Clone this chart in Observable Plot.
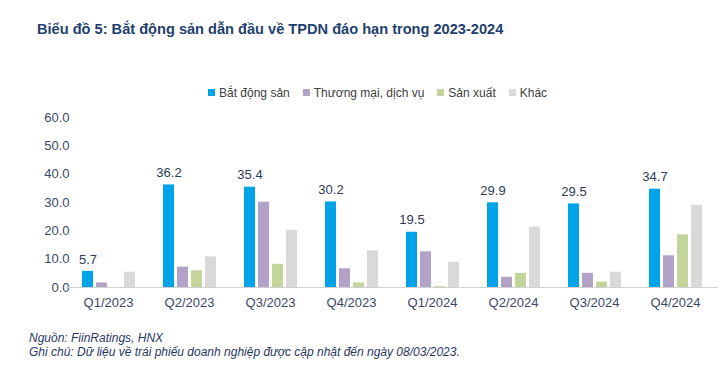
<!DOCTYPE html>
<html>
<head>
<meta charset="utf-8">
<script src="https://cdn.jsdelivr.net/npm/d3@7"></script>
<script src="https://cdn.jsdelivr.net/npm/@observablehq/plot@0.6"></script>
<style>
  html, body { margin: 0; padding: 0; background: #fff; }
  #wrap { position: relative; width: 725px; height: 384px; overflow: hidden; font-family: "Liberation Sans", Arial, sans-serif; }
  #title { position: absolute; left: 37px; top: 21px; font-size: 14.6px; font-weight: bold; color: #1f3f6e; white-space: nowrap; }
  #legend { position: absolute; left: 208px; top: 86px; font-size: 12px; color: #404040; white-space: nowrap; }
  #legend span.item { margin-right: 13px; }
  #legend span.sw { display: inline-block; width: 7px; height: 7px; margin-right: 4px; vertical-align: 1px; }
  #chart { position: absolute; left: 0; top: 0; }
  #foot { position: absolute; left: 29px; top: 332px; font-size: 12px; font-style: italic; color: #1f3864; line-height: 13.5px; white-space: nowrap; }
</style>
</head>
<body>
<div id="wrap">
  <div id="chart"></div>
  <div id="title">Biểu đồ 5: Bắt động sản dẫn đầu về TPDN đáo hạn trong 2023-2024</div>
  <div id="legend"></div>
  <div id="foot">Nguồn: FiinRatings, HNX<br>Ghi chú: Dữ liệu về trái phiếu doanh nghiệp được cập nhật đến ngày 08/03/2023.</div>
</div>
<script>
const quarters = ["Q1/2023", "Q2/2023", "Q3/2023", "Q4/2023", "Q1/2024", "Q2/2024", "Q3/2024", "Q4/2024"];
const seriesNames = ["Bắt động sản", "Thương mại, dịch vụ", "Sản xuất", "Khác"];
const batDongSan = [5.7, 36.2, 35.4, 30.2, 19.5, 29.9, 29.5, 34.7];
const thuongMai = [1.6, 7.2, 30.1, 6.6, 12.6, 3.6, 5.0, 11.2];
const sanXuat = [0.0, 5.9, 8.2, 1.6, 0.3, 5.0, 1.9, 18.6];
const khac = [5.4, 10.8, 20.2, 12.9, 8.9, 21.3, 5.4, 29.0];
const yTicks = [0, 10, 20, 30, 40, 50, 60];
const colors = ["#00a2e8", "#b3a2c8", "#c4d59c", "#d9d9d9"];

const seriesValues = [batDongSan, thuongMai, sanXuat, khac];
const data = [];
quarters.forEach((q, i) => {
  seriesNames.forEach((s, j) => {
    data.push({quarter: q, series: s, value: seriesValues[j][i]});
  });
});

const W = 725, H = 384, mL = 65, mR = 7, mT = 117, mB = 97;
const plot = Plot.plot({
  width: W,
  height: H,
  marginLeft: mL,
  marginRight: mR,
  marginTop: mT,
  marginBottom: mB,
  style: {fontFamily: "'Liberation Sans', Arial, sans-serif", fontSize: "13px", color: "#3a4866", background: "transparent"},
  fx: {domain: quarters, paddingInner: 0.31, paddingOuter: 0.155, label: null, tickSize: 0, tickPadding: 10, axis: "bottom"},
  x: {domain: seriesNames, paddingInner: 0.22, paddingOuter: 0, axis: null},
  y: {domain: [0, 60], ticks: yTicks, tickFormat: d3.format(".1f"), tickSize: 0, tickPadding: 11, label: null, grid: false},
  color: {domain: seriesNames, range: colors},
  marks: [
    Plot.barY(data, {fx: "quarter", x: "series", y: "value", fill: "series"}),
    Plot.text(data.filter(d => d.series === seriesNames[0]), {fx: "quarter", x: "series", y: "value", text: d => d.value.toFixed(1), dy: -12, fill: "#2b3a58", fontSize: 13})
  ]
});
document.getElementById("chart").appendChild(plot);

// continuous baseline across the whole frame, positioned by the y scale
const y0 = plot.scale("y").apply(0);
d3.select(plot).append("line")
  .attr("x1", mL + 1).attr("x2", W - mR)
  .attr("y1", y0 + 0.5).attr("y2", y0 + 0.5)
  .attr("stroke", "#d0d0d0").attr("stroke-width", 1);

const legend = document.getElementById("legend");
seriesNames.forEach((s, j) => {
  const item = document.createElement("span");
  item.className = "item";
  const sw = document.createElement("span");
  sw.className = "sw";
  sw.style.background = colors[j];
  item.appendChild(sw);
  item.appendChild(document.createTextNode(s));
  legend.appendChild(item);
});
</script>
</body>
</html>
